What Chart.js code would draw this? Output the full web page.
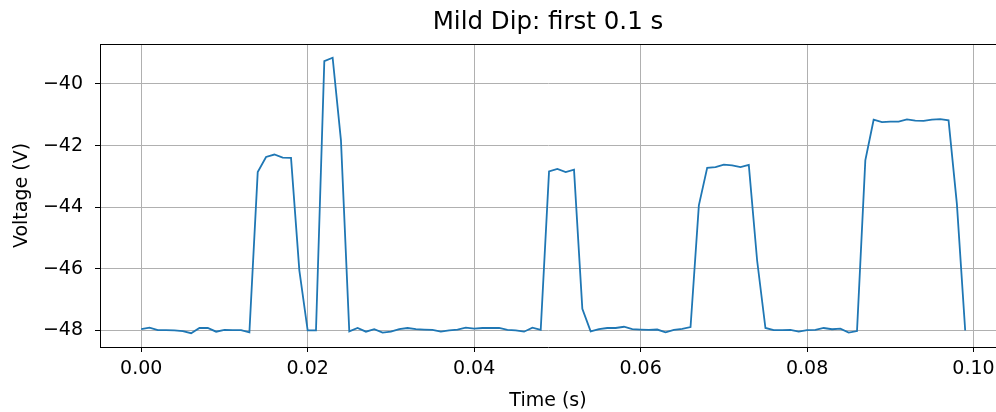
<!DOCTYPE html>
<html>
<head>
<meta charset="utf-8">
<title>Mild Dip: first 0.1 s</title>
<script src="https://cdn.jsdelivr.net/npm/chart.js@4/dist/chart.umd.min.js"></script>
<style>
  html, body { margin: 0; padding: 0; background: #fff; }
  canvas { display: block; }
</style>
</head>
<body>
<canvas id="dipChart" width="996" height="412"></canvas>
<script>
// Sample times (s), 1 ms apart
const timeS = [
  0.000, 0.001, 0.002, 0.003, 0.004, 0.005, 0.006, 0.007, 0.008, 0.009,
  0.010, 0.011, 0.012, 0.013, 0.014, 0.015, 0.016, 0.017, 0.018, 0.019,
  0.020, 0.021, 0.022, 0.023, 0.024, 0.025, 0.026, 0.027, 0.028, 0.029,
  0.030, 0.031, 0.032, 0.033, 0.034, 0.035, 0.036, 0.037, 0.038, 0.039,
  0.040, 0.041, 0.042, 0.043, 0.044, 0.045, 0.046, 0.047, 0.048, 0.049,
  0.050, 0.051, 0.052, 0.053, 0.054, 0.055, 0.056, 0.057, 0.058, 0.059,
  0.060, 0.061, 0.062, 0.063, 0.064, 0.065, 0.066, 0.067, 0.068, 0.069,
  0.070, 0.071, 0.072, 0.073, 0.074, 0.075, 0.076, 0.077, 0.078, 0.079,
  0.080, 0.081, 0.082, 0.083, 0.084, 0.085, 0.086, 0.087, 0.088, 0.089,
  0.090, 0.091, 0.092, 0.093, 0.094, 0.095, 0.096, 0.097, 0.098, 0.099
];

// Measured voltage (V)
const voltageV = [
  -47.96, -47.91, -47.99, -47.99, -48.00, -48.02, -48.09, -47.92, -47.92, -48.04,
  -47.98, -47.99, -47.99, -48.06, -42.86, -42.37, -42.29, -42.39, -42.40, -46.05,
  -48.00, -48.00, -39.26, -39.15, -41.83, -48.03, -47.92, -48.04, -47.96, -48.07,
  -48.04, -47.96, -47.92, -47.96, -47.97, -47.98, -48.04, -48.00, -47.97, -47.91,
  -47.94, -47.92, -47.92, -47.92, -47.98, -48.00, -48.04, -47.91, -47.98, -42.84,
  -42.76, -42.86, -42.78, -47.30, -48.03, -47.96, -47.92, -47.92, -47.88, -47.96,
  -47.97, -47.98, -47.97, -48.06, -47.98, -47.95, -47.89, -43.94, -42.72, -42.70,
  -42.62, -42.64, -42.70, -42.63, -45.73, -47.92, -47.99, -47.99, -47.98, -48.04,
  -47.99, -47.98, -47.92, -47.96, -47.94, -48.07, -48.02, -42.48, -41.16, -41.24,
  -41.22, -41.22, -41.15, -41.19, -41.20, -41.16, -41.14, -41.18, -43.89, -48.00
];

// Axis ticks and their labels
const xTicks = [0.00, 0.02, 0.04, 0.06, 0.08, 0.10];
const xTickLabels = ['0.00', '0.02', '0.04', '0.06', '0.08', '0.10'];
const yTicks = [-48, -46, -44, -42, -40];
const yTickLabels = ['\u221248', '\u221246', '\u221244', '\u221242', '\u221240'];

const FONT = 'DejaVu Sans';
const tickFont = { family: FONT, size: 19 };

// top spine of the plot area (left/bottom come from the axis borders)
const topSpine = {
  id: 'topSpine',
  afterDatasetsDraw(chart) {
    const { ctx, chartArea: a } = chart;
    const y = Math.round(a.top) + 0.5;
    ctx.save();
    ctx.strokeStyle = '#000';
    ctx.lineWidth = 1;
    ctx.beginPath();
    ctx.moveTo(a.left, y);
    ctx.lineTo(a.right, y);
    ctx.stroke();
    ctx.restore();
  }
};

const ctx = document.getElementById('dipChart').getContext('2d');
new Chart(ctx, {
  type: 'line',
  data: {
    datasets: [{
      data: timeS.map((t, i) => ({ x: t, y: voltageV[i] })),
      borderColor: '#1f77b4',
      borderWidth: 1.8,
      pointRadius: 0,
      tension: 0,
      fill: false
    }]
  },
  plugins: [topSpine],
  options: {
    responsive: false,
    animation: false,
    layout: { padding: 0 },
    plugins: {
      legend: { display: false },
      tooltip: { enabled: false },
      title: {
        display: true,
        text: 'Mild Dip: first 0.1 s',
        color: '#000',
        fullSize: false,
        font: { family: FONT, size: 24.5, weight: 'normal' },
        padding: { top: 8, bottom: 6.6 }
      }
    },
    scales: {
      x: {
        type: 'linear',
        min: -0.00495,
        max: 0.1027,
        afterBuildTicks: s => { s.ticks = xTicks.map(v => ({ value: v })); },
        afterFit: s => { s.height = 65; s.paddingLeft = 0; s.paddingRight = 0; },
        ticks: {
          color: '#000',
          font: tickFont,
          padding: 6,
          maxRotation: 0,
          callback: (v, i) => xTickLabels[i]
        },
        grid: { color: '#b0b0b0', lineWidth: 1, tickLength: 5, tickColor: '#000' },
        border: { display: true, color: '#000', width: 1 },
        title: {
          display: true,
          text: 'Time (s)',
          color: '#000',
          font: tickFont,
          padding: { top: 0, bottom: 0 }
        }
      },
      y: {
        min: -48.537,
        max: -38.703,
        afterBuildTicks: s => { s.ticks = yTicks.map(v => ({ value: v })); },
        afterFit: s => { s.width = 100; s.paddingTop = 0; s.paddingBottom = 0; },
        ticks: {
          color: '#000',
          font: tickFont,
          padding: 12,
          callback: (v, i) => yTickLabels[i]
        },
        grid: { color: '#b0b0b0', lineWidth: 1, tickLength: 5, tickColor: '#000' },
        border: { display: true, color: '#000', width: 1 },
        title: {
          display: true,
          text: 'Voltage (V)',
          color: '#000',
          font: tickFont,
          padding: { top: 10.6, bottom: 0 }
        }
      }
    }
  }
});
</script>
</body>
</html>
